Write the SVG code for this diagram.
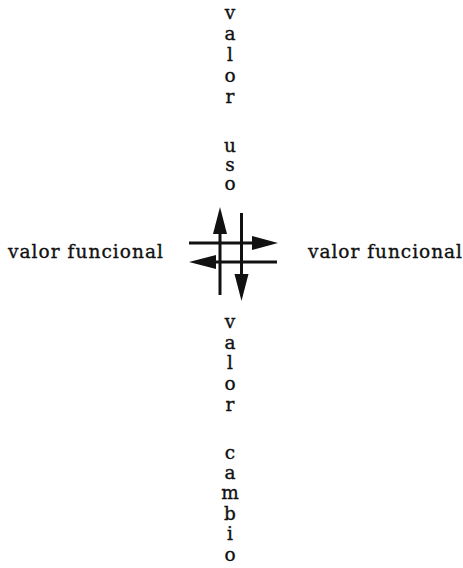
<svg xmlns="http://www.w3.org/2000/svg" width="463" height="568" viewBox="0 0 463 568">
<style>
.t{font-family:"DejaVu Serif","Liberation Serif",serif;font-size:18.5px;fill:#111;stroke:#111;stroke-width:0.35;}
.v{text-anchor:middle;}
.ln{stroke:#111;stroke-width:3;fill:none;}
.hd{fill:#111;}
</style>
<rect width="463" height="568" fill="#fff"/>
<g id="top-label" class="t v">
<text x="230" y="19">v</text>
<text x="230" y="40">a</text>
<text x="230" y="61">l</text>
<text x="230" y="82">o</text>
<text x="230" y="103">r</text>
<text x="230" y="152">u</text>
<text x="230" y="171">s</text>
<text x="230" y="190">o</text>
</g>
<g id="bottom-label" class="t v">
<text x="230" y="328">v</text>
<text x="230" y="349">a</text>
<text x="230" y="369">l</text>
<text x="230" y="390">o</text>
<text x="230" y="411">r</text>
<text x="230" y="459">c</text>
<text x="230" y="479">a</text>
<text x="230" y="499">m</text>
<text x="230" y="520">b</text>
<text x="230" y="540">i</text>
<text x="230" y="561">o</text>
</g>
<g id="left-label"><text class="t" x="8" y="258" textLength="155" lengthAdjust="spacing">valor funcional</text></g>
<g id="right-label"><text class="t" x="308" y="258" textLength="154" lengthAdjust="spacing">valor funcional</text></g>
<g id="connectors">
<line class="ln" x1="220" y1="295" x2="220" y2="230"/>
<polygon class="hd" points="220,207 213,234 227,234"/>
<line class="ln" x1="241.5" y1="213" x2="241.5" y2="277"/>
<polygon class="hd" points="241.5,301 234.5,274 248.5,274"/>
<line class="ln" x1="189" y1="243" x2="255" y2="243"/>
<polygon class="hd" points="278,243 252,236 252,250"/>
<line class="ln" x1="277" y1="262" x2="214" y2="262"/>
<polygon class="hd" points="189,262 216,255 216,269"/>
</g>
</svg>
